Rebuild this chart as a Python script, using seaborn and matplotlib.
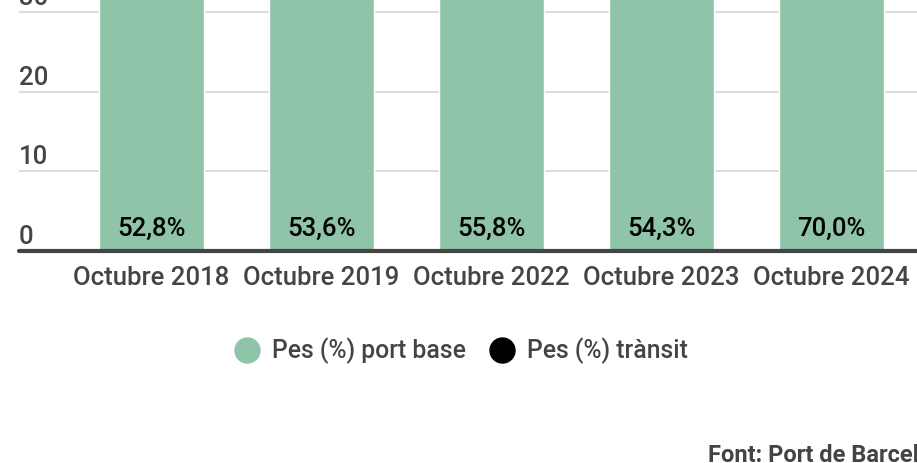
import matplotlib
matplotlib.use("Agg")
import matplotlib.pyplot as plt
from matplotlib.lines import Line2D
import seaborn as sns

# Data
periods = ["Octubre 2018", "Octubre 2019", "Octubre 2022", "Octubre 2023", "Octubre 2024"]
base_pct = [52.8, 53.6, 55.8, 54.3, 70.0]
transit_pct = [47.2, 46.4, 44.2, 45.7, 30.0]
yticks = [0, 10, 20, 30]
series_names = ["Pes (%) port base", "Pes (%) trànsit"]
source = "Font: Port de Barcelona"

GREEN = "#8fc4a9"
GREY = "#444444"

sns.set_theme(style="white")
plt.rcParams["font.family"] = ["Roboto", "DejaVu Sans"]
plt.rcParams["font.weight"] = "medium"

fig = plt.figure(figsize=(9.17, 4.63), dpi=100)
ax = fig.add_axes([19 / 917, (463 - 251) / 463, 1 - 19 / 917, 251 / 463])

totals = [b + t for b, t in zip(base_pct, transit_pct)]
sns.barplot(x=periods, y=totals, color="black", saturation=1, width=0.618, ax=ax)
sns.barplot(x=periods, y=base_pct, color=GREEN, saturation=1, width=0.618, ax=ax)

ax.set_xlim(-0.779, 4.503)
ax.set_ylim(0, 31.5)
ax.set_xlabel("")
ax.set_ylabel("")
sns.despine(ax=ax, left=True, right=True, top=True, bottom=True)

# gridlines
for t in yticks[1:]:
    ax.axhline(t, color="#d9d9d9", lw=1.3, zorder=0)
ax.axhline(0, color=GREY, lw=3, zorder=5, clip_on=False)

ax.set_yticks([])
ax.tick_params(axis="x", length=0, pad=10.5, labelsize=18.5, labelcolor=GREY)

for t in yticks:
    ax.annotate(str(t), xy=(0, t), xycoords=("axes fraction", "data"),
                xytext=(0, 1.5), textcoords="offset points",
                ha="left", va="bottom", fontsize=18.5, color=GREY)

for i, v in enumerate(base_pct):
    ax.annotate(f"{v:.1f}%".replace(".", ","), xy=(i, 0), xytext=(0, 16),
                textcoords="offset points", ha="center", va="center",
                fontsize=18.5, color="black")

handles = [
    Line2D([], [], marker="o", ls="", markersize=18, color=GREEN),
    Line2D([], [], marker="o", ls="", markersize=18, color="black"),
]
fig.legend(handles, series_names, loc="center", bbox_to_anchor=(0.503, 1 - 351 / 463),
           ncol=2, frameon=False, fontsize=17.8, labelcolor=GREY,
           handletextpad=0.5, columnspacing=0.95, handlelength=1.0)

fig.text(708 / 917, 1 - 455 / 463, source, ha="left", va="center",
         fontsize=17, fontweight="bold", color=GREY)

fig.savefig("out.png", dpi=100)
